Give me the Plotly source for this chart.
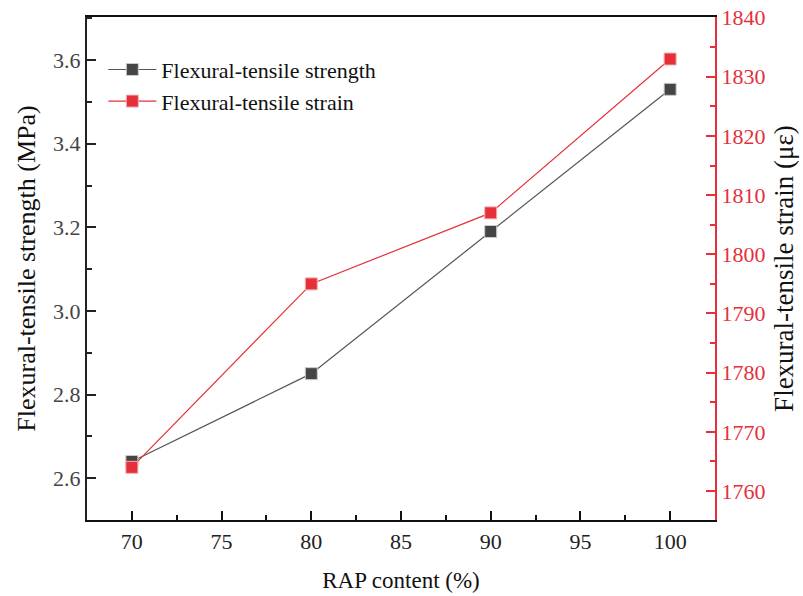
import plotly.graph_objects as go

rap_content = [70, 80, 90, 100]
strength = [2.64, 2.85, 3.19, 3.53]
strain = [1764, 1795, 1807, 1833]
x_ticks = [70, 75, 80, 85, 90, 95, 100]
left_ticks = [2.6, 2.8, 3.0, 3.2, 3.4, 3.6]
right_ticks = [1760, 1770, 1780, 1790, 1800, 1810, 1820, 1830, 1840]

FONT = "Times New Roman, Tinos, Liberation Serif, DejaVu Serif, serif"
RED = "#e5303c"
DARK = "#454545"

fig = go.Figure()
fig.add_trace(go.Scatter(
    x=rap_content, y=strength, name="Flexural-tensile strength",
    mode="lines+markers",
    line=dict(color="#555555", width=1.2),
    marker=dict(symbol="square", size=12, color=DARK, line=dict(color="#cccccc", width=1)),
    yaxis="y"))
fig.add_trace(go.Scatter(
    x=rap_content, y=strain, name="Flexural-tensile strain",
    mode="lines+markers",
    line=dict(color=RED, width=1.2),
    marker=dict(symbol="square", size=12, color=RED, line=dict(color="#f5b0b0", width=1)),
    yaxis="y2"))

fig.update_layout(
    width=803, height=596,
    margin=dict(l=87, r=88, t=17, b=76),
    paper_bgcolor="white", plot_bgcolor="white",
    font=dict(family=FONT, size=19, color="#222"),
    showlegend=True,
    legend=dict(x=0.026, y=0.937, xanchor="left", yanchor="top",
                bgcolor="rgba(0,0,0,0)", font=dict(family=FONT, size=22, color="#111"),
                tracegroupgap=0, itemwidth=48),
    xaxis=dict(
        range=[67.5, 102.5], tickmode="array", tickvals=x_ticks, automargin=False,
        showline=True, linecolor="#111", linewidth=2, mirror=True,
        ticks="inside", ticklen=9, tickwidth=2, tickcolor="#111",
        minor=dict(dtick=2.5, ticks="inside", ticklen=5, tickwidth=2, tickcolor="#111"),
        showgrid=False, zeroline=False, ticklabelstandoff=1,
        tickfont=dict(family=FONT, size=22, color="#222"),
        title=dict(text="RAP content (%)", font=dict(family=FONT, size=23, color="#111"), standoff=18),
    ),
    yaxis=dict(
        range=[2.5, 3.703], tickmode="array", tickvals=left_ticks, tickformat=".1f", automargin=False,
        showline=True, linecolor="#222", linewidth=2,
        ticks="inside", ticklen=9, tickwidth=2, tickcolor="#222",
        minor=dict(dtick=0.1, tick0=2.5, ticks="inside", ticklen=5, tickwidth=2, tickcolor="#222"),
        showgrid=False, zeroline=False,
        tickfont=dict(family=FONT, size=22, color="#444"),
        title=dict(text="Flexural-tensile strength (MPa)", font=dict(family=FONT, size=26, color="#111"), standoff=10),
    ),
    yaxis2=dict(
        range=[1755.1, 1840.1], overlaying="y", side="right", anchor="x", automargin=False,
        tickmode="array", tickvals=right_ticks,
        showline=True, linecolor=RED, linewidth=2,
        ticks="inside", ticklen=9, tickwidth=2, tickcolor=RED,
        minor=dict(dtick=5, tick0=1755, ticks="inside", ticklen=5, tickwidth=2, tickcolor=RED),
        showgrid=False, zeroline=False,
        tickfont=dict(family=FONT, size=22, color=RED),
        title=dict(text="Flexural-tensile strain (με)", font=dict(family=FONT, size=27, color="#111"), standoff=10),
    ),
)

fig.write_html("out.html")
